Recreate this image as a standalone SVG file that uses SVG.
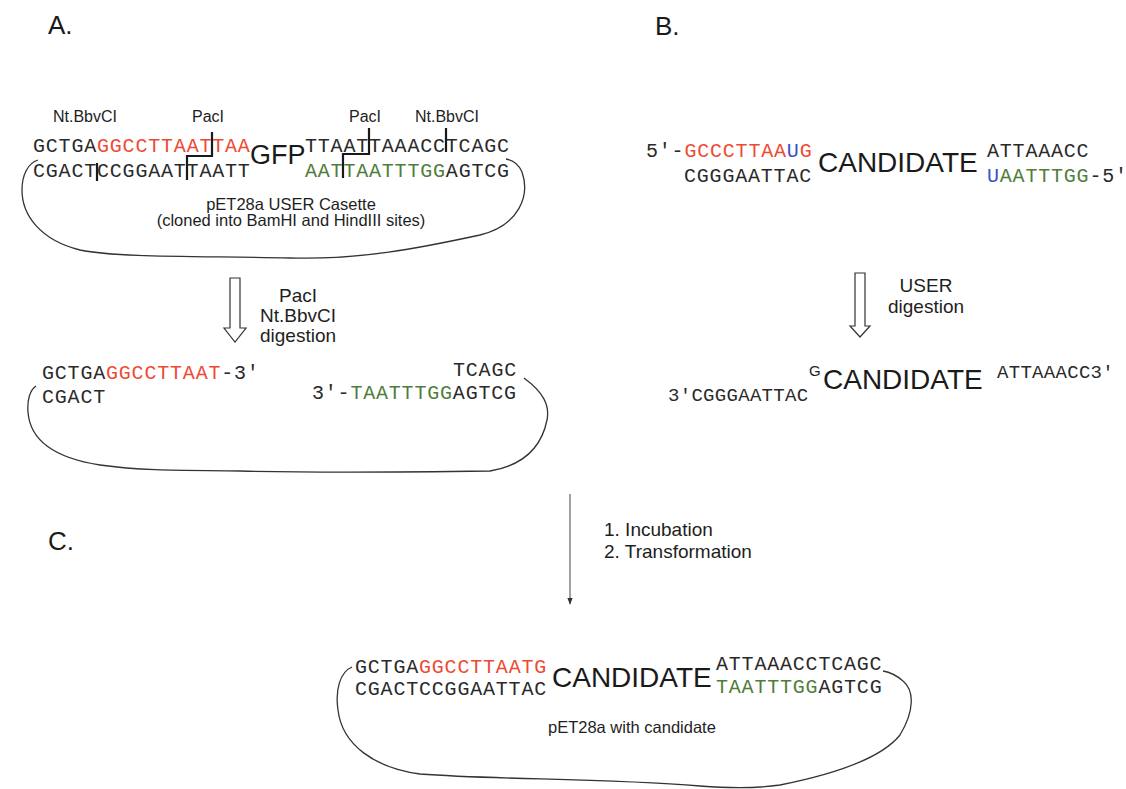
<svg xmlns="http://www.w3.org/2000/svg" width="1126" height="789" viewBox="0 0 1126 789">
<defs>
<style>
.seq{font-family:"Liberation Mono","DejaVu Sans Mono",monospace;font-size:20px;letter-spacing:0.8px;fill:#2a2a2a}
.seqs{font-family:"Liberation Mono","DejaVu Sans Mono",monospace;font-size:19px;letter-spacing:0.3px;fill:#2a2a2a}
.r{fill:#ee4a33}
.g{fill:#4f7d3a}
.b{fill:#3b4fc4}
.sans{font-family:"Liberation Sans",Arial,sans-serif;fill:#1e1e1e}
.big{font-family:"Liberation Sans",Arial,sans-serif;font-size:28px;fill:#1a1a1a}
.lab{font-family:"Liberation Sans",Arial,sans-serif;font-size:19px;fill:#1e1e1e}
.site{font-family:"Liberation Sans",Arial,sans-serif;font-size:16px;fill:#1e1e1e;text-anchor:middle}
.note{font-family:"Liberation Sans",Arial,sans-serif;font-size:16.5px;fill:#1e1e1e}
.head{font-family:"Liberation Sans",Arial,sans-serif;font-size:26px;fill:#1a1a1a}
.outline{fill:none;stroke:#333;stroke-width:1.3}
.cut{fill:none;stroke:#1a1a1a;stroke-width:2.2}
.hollow{fill:#fff;stroke:#333;stroke-width:1.2}
</style>
<marker id="ah" viewBox="0 0 10 10" refX="9" refY="5" markerWidth="6" markerHeight="6" orient="auto">
<path d="M0,1 L10,5 L0,9 Z" fill="#333"/>
</marker>
</defs>
<rect width="1126" height="789" fill="#fff"/>

<g id="headings">
<text class="head" x="48" y="34">A.</text>
<text class="head" x="655" y="35">B.</text>
<text class="head" x="48" y="550">C.</text>
</g>

<g id="panel-a-top">
<text class="site" x="85" y="122">Nt.BbvCI</text>
<text class="site" x="208" y="122">PacI</text>
<text class="site" x="365" y="122">PacI</text>
<text class="site" x="447" y="122">Nt.BbvCI</text>
<text class="seq" x="33" y="152">GCTGA<tspan class="r">GGCCTTAATTAA</tspan></text>
<text class="seq" x="33" y="177">CGACTCCGGAATTAATT</text>
<text class="big" x="250" y="164" style="font-size:27px">GFP</text>
<text class="seq" x="305" y="152">TTAATTAAACCTCAGC</text>
<text class="seq" x="305" y="177"><tspan class="g">AATTAATTTGG</tspan>AGTCG</text>
<path class="cut" d="M97,163 V181"/>
<path class="cut" d="M212,132 V156 H187 V180"/>
<path class="cut" d="M369,128 V154 H343 V178"/>
<path class="cut" d="M446,128 V152"/>
<path class="outline" d="M38,160 C28,163 22,175 22,190 C22,215 40,240 80,250 C120,258 200,256 290,258 C360,260 420,248 480,235 C520,225 530,195 522,172 C518,163 512,160 506,159"/>
<text class="note" x="291" y="210" text-anchor="middle">pET28a USER Casette</text>
<text class="note" x="291" y="226" text-anchor="middle">(cloned into BamHI and HindIII sites)</text>
</g>

<g id="panel-a-bottom">
<text class="seq" x="42" y="379">GCTGA<tspan class="r">GGCCTTAAT</tspan>-3'</text>
<text class="seq" x="42" y="403">CGACT</text>
<text class="seq" x="453" y="376">TCAGC</text>
<text class="seq" x="312" y="399">3'-<tspan class="g">TAATTTGG</tspan>AGTCG</text>
<path class="outline" d="M36,386 C30,390 27,400 28,412 C30,440 55,458 100,465 C150,472 200,470 240,471 C320,473 420,472 490,471 C525,465 542,445 547,420 C550,405 543,392 524,378"/>
</g>

<g id="panel-b-top">
<text class="seq" x="646" y="157">5'-<tspan class="r">GCCCTTAA</tspan><tspan class="b">U</tspan><tspan class="r">G</tspan></text>
<text class="seq" x="684" y="182">CGGGAATTAC</text>
<text class="big" x="818" y="172">CANDIDATE</text>
<text class="seq" x="987" y="157">ATTAAACC</text>
<text class="seq" x="987" y="182"><tspan class="b">U</tspan><tspan class="g">AATTTGG</tspan>-5'</text>
</g>

<g id="panel-b-bottom">
<text class="sans r" x="809" y="376" style="font-size:15px">G</text>
<text class="big" x="823" y="389">CANDIDATE</text>
<text class="seqs" x="997" y="378">ATTAAACC3'</text>
<text class="seqs" x="668" y="401">3'CGGGAATTAC</text>
</g>

<g id="panel-c">
<text class="seq" x="355" y="673">GCTGA<tspan class="r">GGCCTTAATG</tspan></text>
<text class="seq" x="355" y="695">CGACTCCGGAATTAC</text>
<text class="big" x="552" y="687">CANDIDATE</text>
<text class="seq" x="716" y="670">ATTAAACCTCAGC</text>
<text class="seq" x="716" y="693"><tspan class="g">TAATTTGG</tspan>AGTCG</text>
<text class="note" x="548" y="733">pET28a with candidate</text>
<path class="outline" d="M352,667 C340,672 335,690 338,710 C342,745 375,768 420,774 C500,780 600,778 700,786 C740,789 760,788 780,785 C830,775 880,760 900,735 C915,710 914,690 903,681 C895,674 889,672 883,671"/>
</g>

<g id="connectors">
<path class="hollow" d="M230,278 H240 V328 H246 L235,342 L224,328 H230 Z"/>
<path class="hollow" d="M855,273 H865 V326 H870 L860,337 L850,326 H855 Z"/>
<line x1="570" y1="494" x2="570" y2="604" stroke="#555" stroke-width="1.1" marker-end="url(#ah)"/>
</g>

<g id="step-labels">
<text class="lab" x="298" y="302" text-anchor="middle">PacI</text>
<text class="lab" x="298" y="322" text-anchor="middle">Nt.BbvCI</text>
<text class="lab" x="298" y="342" text-anchor="middle">digestion</text>
<text class="lab" x="926" y="292" text-anchor="middle">USER</text>
<text class="lab" x="926" y="313" text-anchor="middle">digestion</text>
<text class="lab" x="604" y="536">1. Incubation</text>
<text class="lab" x="604" y="558">2. Transformation</text>
</g>
</svg>
